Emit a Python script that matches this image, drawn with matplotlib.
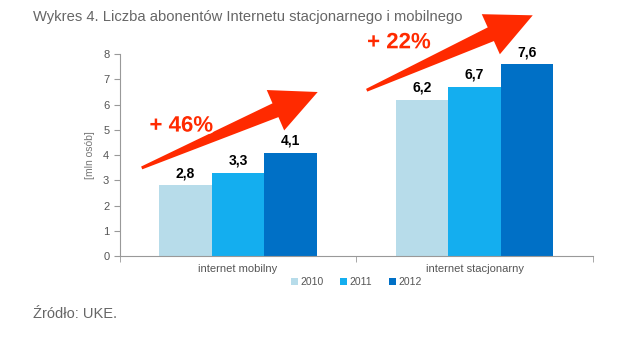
import matplotlib.pyplot as plt
import numpy as np
import matplotlib.patheffects as pe
from matplotlib.patches import Polygon
from matplotlib.transforms import IdentityTransform

plt.rcParams['font.family'] = ['Liberation Sans', 'DejaVu Sans']

categories = ['internet mobilny', 'internet stacjonarny']
years = ['2010', '2011', '2012']
values = {
    '2010': [2.8, 6.2],
    '2011': [3.3, 6.7],
    '2012': [4.1, 7.6],
}
colors = ['#b7dcea', '#14aeef', '#0070c6']

fig = plt.figure(figsize=(6.3, 3.45), dpi=100)
ax = fig.add_axes([0.19, 0.258, 0.751, 0.585])

x = np.arange(len(categories))
w = 0.222
for i, yr in enumerate(years):
    pos = x + (i - 1) * w
    ax.bar(pos, values[yr], w, color=colors[i], label=yr, zorder=2)
    for px, v in zip(pos, values[yr]):
        ax.text(px, v + 0.2, str(v).replace('.', ','), ha='center', va='bottom',
                fontsize=10, fontweight='bold', color='black')

ax.set_xlim(-0.5, 1.5)
ax.set_ylim(0, 8)
ax.set_yticks(range(0, 9))
ax.set_xticks(x)
ax.set_xticklabels(categories)
ax.set_xticks([-0.5, 0.5, 1.5], minor=True)
ax.tick_params(axis='x', which='major', length=0, pad=6)
ax.tick_params(axis='x', which='minor', length=4, color='#999999')
ax.tick_params(axis='y', length=4, color='#999999')
ax.tick_params(labelsize=8, labelcolor='#555555')
for s in ['top', 'right']:
    ax.spines[s].set_visible(False)
for s in ['left', 'bottom']:
    ax.spines[s].set_color('#999999')
ax.set_ylabel('[mln osób]', fontsize=7.5, color='#777777', labelpad=6)

ax.legend(loc='upper center', bbox_to_anchor=(0.5, -0.06), ncol=3, frameon=False,
          fontsize=7.5, labelcolor='#555555', handlelength=0.7, handleheight=0.7,
          handletextpad=0.2, columnspacing=1.6)

red = '#ff2a00'


def big_arrow(tail, tip):
    # tapered red arrow, built in pixel space from data end points
    t = ax.transData.transform(tail)
    p = ax.transData.transform(tip)
    d = p - t
    L = np.hypot(*d)
    u = d / L
    n = np.array([-u[1], u[0]])
    head_len, head_hw = 46, 22
    base = p - u * head_len
    pts = [t + n * 1.5, base + n * 7.5, base + n * head_hw, p,
           base - n * head_hw, base - n * 7.5, t - n * 1.5]
    ax.add_patch(Polygon(pts, closed=True, facecolor=red, edgecolor='none',
                         transform=IdentityTransform(), zorder=3, clip_on=False))


big_arrow((-0.407, 3.49), (0.337, 6.50))
big_arrow((0.544, 6.57), (1.246, 9.54))

fx = [pe.withStroke(linewidth=3, foreground='white')]
ax.text(-0.24, 5.15, '+ 46%', color=red, fontsize=16, fontweight='bold',
        ha='center', va='center', path_effects=fx, zorder=4)
ax.text(0.68, 8.45, '+ 22%', color=red, fontsize=16, fontweight='bold',
        ha='center', va='center', path_effects=fx, zorder=4, clip_on=False)

fig.text(33 / 630, 1 - 17 / 345, 'Wykres 4. Liczba abonentów Internetu stacjonarnego i mobilnego',
         fontsize=10.6, color='#666666', va='center')
fig.text(33 / 630, 1 - 314 / 345, 'Źródło: UKE.', fontsize=10.5, color='#666666', va='center')

fig.savefig('out.png', dpi=100)
